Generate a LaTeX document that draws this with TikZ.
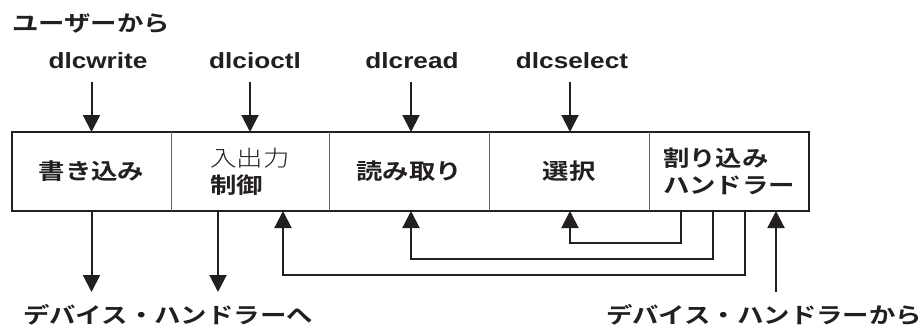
\documentclass[tikz,border=0pt]{standalone}
\usepackage{fontspec}
\setmainfont{Liberation Sans}[FakeStretch=1.19]
\newfontfamily\jpb{Noto Sans CJK JP Bold}[FakeStretch=1.2]
\newfontfamily\jpl{Noto Sans CJK JP Light}[FakeStretch=1.2]
\usetikzlibrary{arrows.meta,positioning}
\definecolor{ink}{HTML}{231F20}
\tikzset{
  cell/.style={minimum height=79pt, inner sep=0pt, outer sep=0pt, align=left,
    font=\jpb\fontsize{22}{27}\selectfont, text=ink},
  lbl/.style={inner sep=0pt, font=\jpb\fontsize{22}{27}\selectfont, text=ink},
  fn/.style={inner sep=0pt, font=\bfseries\fontsize{22}{27}\selectfont, text=ink},
  arr/.style={draw=ink, line width=2pt, -{Triangle[length=17pt,width=17pt]}},
  frame/.style={draw=ink, line width=2.4pt},
  divider/.style={draw=ink!70, line width=0.9pt}
}
\begin{document}
\begin{tikzpicture}[x=1pt,y=-1pt]
\useasboundingbox (0,0) rectangle (922,330);
% cells
\node[cell, minimum width=159pt] (c1) at (91.5,171.5) {書き込み};
\node[cell, minimum width=158pt, right=0pt of c1] (c2)
  {{\jpl 入出力}\\制御};
\node[cell, minimum width=160pt, right=0pt of c2] (c3) {読み取り};
\node[cell, minimum width=160pt, right=0pt of c3] (c4) {選択};
\node[cell, minimum width=160pt, right=0pt of c4] (c5) {割り込み\\ハンドラー};
\draw[frame] (c1.north west) rectangle (c5.south east);
\foreach \c in {c1,c2,c3,c4}{\draw[divider] (\c.north east) -- (\c.south east);}
% labels
\node[lbl, anchor=west] (user) at (12,24) {ユーザーから};
\node[fn] (w) at (98,61) {dlcwrite};
\node[fn] (io) at (255,61) {dlcioctl};
\node[fn] (rd) at (412,61) {dlcread};
\node[fn] (sel) at (572,61) {dlcselect};
\node[lbl] (toh) at (168,315) {デバイス・ハンドラーへ};
\node[lbl] (fromh) at (764,315) {デバイス・ハンドラーから};
% top arrows
\draw[arr] (c1.north |- 0,82) -- (c1.north);
\draw[arr] (c2.north |- 0,82) -- (c2.north);
\draw[arr] ([xshift=2pt]c3.north |- 0,82) -- ([xshift=2pt]c3.north);
\draw[arr] ([xshift=1pt]c4.north |- 0,82) -- ([xshift=1pt]c4.north);
% down arrows to handler
\draw[arr] (c1.south) -- (c1.south |- 0,292);
\draw[arr] ([xshift=47pt]c2.south west) -- ++(0,81);
% feedback loops from interrupt handler
\draw[arr] ([xshift=32pt]c5.south west) -- ++(0,32) -| ([xshift=1pt]c4.south);
\draw[arr] ([xshift=64pt]c5.south west) -- ++(0,48) -| ([xshift=2pt]c3.south);
\draw[arr] ([xshift=96pt]c5.south west) -- ++(0,64) -| ([xshift=33pt]c2.south);
% from device handler
\coordinate (dh) at (776,292);
\draw[arr] (dh) -- (dh |- c5.south);
\end{tikzpicture}
\end{document}
